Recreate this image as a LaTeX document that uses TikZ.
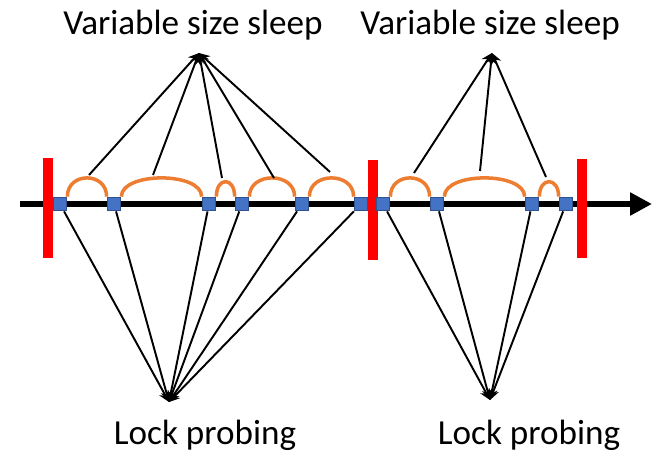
\documentclass[tikz,border=0pt]{standalone}
\usepackage{fontspec}
\setmainfont{Carlito}
\usetikzlibrary{arrows.meta}

\definecolor{probeblue}{HTML}{4472C4}
\definecolor{probeedge}{HTML}{2F528F}
\definecolor{sleeporange}{HTML}{ED7D31}

\begin{document}
\begin{tikzpicture}[x=0.02cm,y=-0.02cm,>={Stealth[length=6pt,width=6pt]},
  probe/.style={draw=probeedge,fill=probeblue,line width=0.7pt,minimum size=0.27cm,inner sep=0pt},
  sleeparc/.style={draw=sleeporange,line width=2pt},
  link/.style={line width=1.1pt,->},
  barrier/.style={fill=red,draw=none},
  caption/.style={font=\fontsize{20}{24}\selectfont}]
  \useasboundingbox (0,0) rectangle (652,451);

  % time axis
  \draw[line width=0.13cm,-{Triangle[length=0.44cm,width=0.44cm]}] (20,204) -- (652,204);

  % barriers
  \fill[barrier] (43,158) rectangle (53,258);
  \fill[barrier] (368,160) rectangle (378,260);
  \fill[barrier] (577,159) rectangle (587,258);

  % probes
  \node[probe] (p1) at (60,204) {};
  \node[probe] (p2) at (114,204) {};
  \node[probe] (p3) at (209,204) {};
  \node[probe] (p4) at (242,204) {};
  \node[probe] (p5) at (302,204) {};
  \node[probe] (p6) at (361,204) {};
  \node[probe] (p7) at (383,204) {};
  \node[probe] (p8) at (437,204) {};
  \node[probe] (p9) at (532,204) {};
  \node[probe] (p10) at (566,204) {};

  % sleeps between probes
  \draw[sleeparc] (p1.north east) .. controls +(0,-25) and +(0,-25) .. (p2.north west);
  \draw[sleeparc] (p2.north east) .. controls +(0,-25) and +(0,-25) .. (p3.north west);
  \draw[sleeparc] (p3.north east) .. controls +(0,-20) and +(0,-20) .. (p4.north west);
  \draw[sleeparc] (p4.north east) .. controls +(0,-25) and +(0,-25) .. (p5.north west);
  \draw[sleeparc] (p5.north east) .. controls +(0,-25) and +(0,-25) .. (p6.north west);
  \draw[sleeparc] (p7.north east) .. controls +(0,-25) and +(0,-25) .. (p8.north west);
  \draw[sleeparc] (p8.north east) .. controls +(0,-25) and +(0,-25) .. (p9.north west);
  \draw[sleeparc] (p9.north east) .. controls +(0,-20) and +(0,-20) .. (p10.north west);

  % labels and meeting points
  \node[caption] (sleepL) at (193,25) {Variable size sleep};
  \node[caption] (sleepR) at (490,25) {Variable size sleep};
  \node[caption] (lockL) at (205,435) {Lock probing};
  \node[caption] (lockR) at (529,435) {Lock probing};
  \coordinate (topL) at (199,53);
  \coordinate (topR) at (492,53);
  \coordinate (botL) at (169,402);
  \coordinate (botR) at (490,400);

  % arc tops
  \coordinate (a1) at (89,175);
  \coordinate (a2) at (153,175);
  \coordinate (a3) at (222,178);
  \coordinate (a4) at (274,178);
  \coordinate (a5) at (330,172);
  \coordinate (a6) at (414,173);
  \coordinate (a7) at (480,171);
  \coordinate (a8) at (546,177);

  % sleeps -> label
  \draw[link] (a1) -- (topL);
  \draw[link] (a2) -- (topL);
  \draw[link] (a3) -- (topL);
  \draw[link] (a4) -- (topL);
  \draw[link] (a5) -- (topL);
  \draw[link] (a6) -- (topR);
  \draw[link] (a7) -- (topR);
  \draw[link] (a8) -- (topR);

  % probes -> label
  \draw[link] (p1) -- (botL);
  \draw[link] (p2) -- (botL);
  \draw[link] (p3) -- (botL);
  \draw[link] (p4) -- (botL);
  \draw[link] (p5) -- (botL);
  \draw[link] (p6) -- (botL);
  \draw[link] (p7) -- (botR);
  \draw[link] (p8) -- (botR);
  \draw[link] (p9) -- (botR);
  \draw[link] (p10) -- (botR);
\end{tikzpicture}
\end{document}
